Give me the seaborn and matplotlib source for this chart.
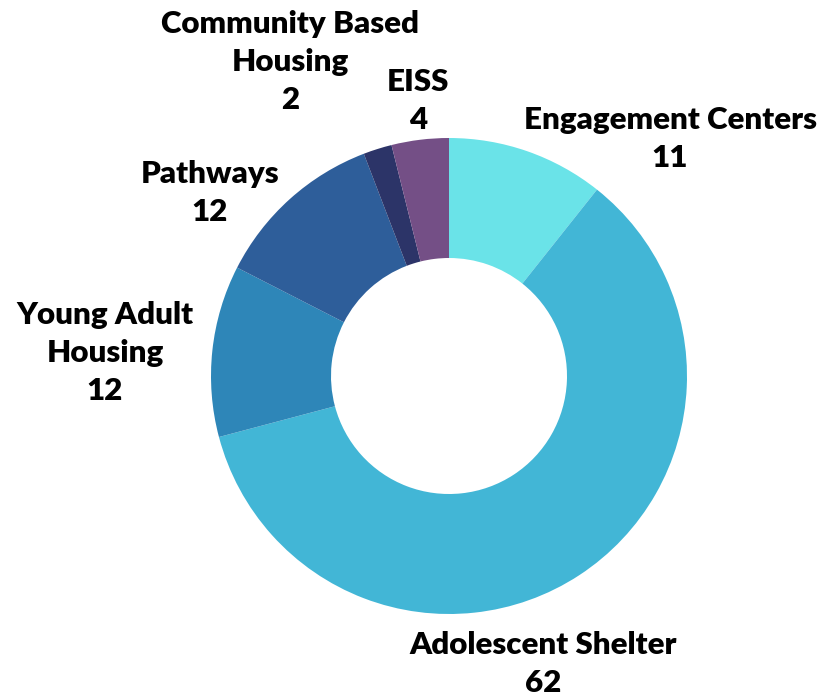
import matplotlib
matplotlib.use("Agg")
import matplotlib.pyplot as plt
import seaborn as sns

categories = ["Engagement Centers", "Adolescent Shelter", "Young Adult Housing",
              "Pathways", "Community Based Housing", "EISS"]
values = [11, 62, 12, 12, 2, 4]
label_texts = ["Engagement Centers", "Adolescent Shelter", "Young Adult\nHousing",
               "Pathways", "Community Based\nHousing", "EISS"]

sns.set_theme(style="white")
plt.rcParams['font.family'] = ['Lato', 'DejaVu Sans']

colors = ["#6ae3e8", "#42b6d6", "#2e86b8", "#2e5e9a", "#2c3468", "#744f86"]

W, H = 840, 700
fig = plt.figure(figsize=(8.4, 7), dpi=100)
ax = fig.add_axes([0, 0, 1, 1])

cx, cy, R = 449, H - 376, 238
ax.pie(values, colors=colors, startangle=90, counterclock=False,
       center=(cx, cy), radius=R, frame=True,
       wedgeprops=dict(width=120, linewidth=0))
ax.set_xlim(0, W)
ax.set_ylim(0, H)
ax.set_aspect('equal')
ax.axis('off')

# label anchor positions (pixel centres of the text blocks)
positions = [(670, 139), (543, 664), (105, 353), (210, 193), (290, 62), (418, 101)]
step = 38
for txt, v, (px, py) in zip(label_texts, values, positions):
    lines = txt.split("\n") + [str(v)]
    n = len(lines)
    for i, line in enumerate(lines):
        y = py + (i - (n - 1) / 2) * step
        ax.text(px, H - y, line, ha='center', va='center',
                fontsize=22.5, fontweight='heavy', color='black')

fig.savefig("out.png", dpi=100)
